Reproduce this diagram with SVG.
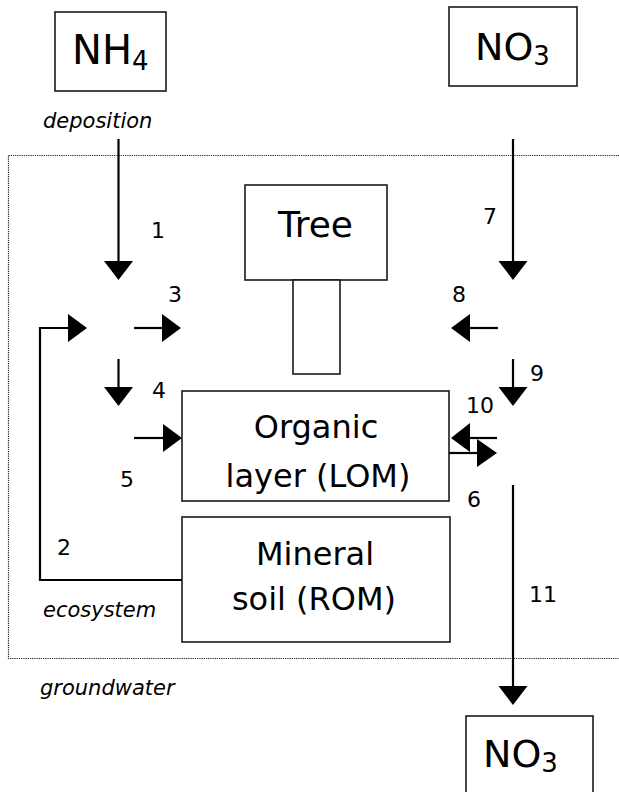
<svg xmlns="http://www.w3.org/2000/svg" width="619" height="792" viewBox="0 0 619 792">
<style>
.box{fill:#fff;stroke:#1a1a1a;stroke-width:1.6}
.ln{fill:none;stroke:#000;stroke-width:2.2}
.head{fill:#000}
.big{font-family:"DejaVu Sans","Liberation Sans",sans-serif;fill:#000}
.lbl{font-family:"DejaVu Sans","Liberation Sans",sans-serif;font-size:22px;fill:#000}
.it{font-family:"DejaVu Sans","Liberation Sans",sans-serif;font-style:italic;font-size:21px;fill:#000}
.dot{fill:none;stroke:#222;stroke-width:1.2;stroke-dasharray:1.2 1}
</style>
<rect class="dot" x="8.5" y="155.5" width="620" height="503"/>
<text class="it" x="43" y="128">deposition</text>
<text class="it" x="43" y="617">ecosystem</text>
<text class="it" x="40" y="695">groundwater</text>
<g id="nh4">
<rect class="box" x="55" y="12" width="111" height="79"/>
<text class="big" x="72" y="64" font-size="40">NH<tspan font-size="26" dy="6">4</tspan></text>
</g>
<g id="no3-top">
<rect class="box" x="449" y="7" width="128" height="79"/>
<text class="big" x="475" y="60" font-size="38">NO<tspan font-size="26" dy="5">3</tspan></text>
</g>
<g id="tree">
<rect class="box" x="245" y="185" width="142" height="95"/>
<rect class="box" x="293" y="280" width="47" height="94"/>
<text class="big" x="315.5" y="237" font-size="36" text-anchor="middle">Tree</text>
</g>
<g id="organic">
<rect class="box" x="182" y="391" width="267" height="110"/>
<text class="big" x="316" y="438" font-size="32" text-anchor="middle">Organic</text>
<text class="big" x="318" y="487" font-size="32" text-anchor="middle">layer (LOM)</text>
</g>
<g id="mineral">
<rect class="box" x="182" y="517" width="268" height="125"/>
<text class="big" x="315" y="565" font-size="32" text-anchor="middle">Mineral</text>
<text class="big" x="314" y="610" font-size="32" text-anchor="middle">soil (ROM)</text>
</g>
<g id="no3-bottom">
<rect class="box" x="466" y="716" width="127" height="80"/>
<text class="big" x="483" y="767" font-size="38">NO<tspan font-size="26" dy="5">3</tspan></text>
</g>
<g id="connectors">
<line class="ln" x1="118.5" y1="139" x2="118.5" y2="262"/>
<polygon class="head" points="104,261 133,261 118.5,280"/>
<line class="ln" x1="513" y1="139" x2="513" y2="262"/>
<polygon class="head" points="498.5,261 527.5,261 513,280"/>
<line class="ln" x1="134" y1="328" x2="163" y2="328"/>
<polygon class="head" points="162,314 162,342 181,328"/>
<polyline class="ln" points="182,580 40,580 40,328 69,328"/>
<polygon class="head" points="68,314 68,342 87,328"/>
<line class="ln" x1="118.5" y1="359" x2="118.5" y2="388"/>
<polygon class="head" points="104,387 133,387 118.5,406"/>
<line class="ln" x1="134" y1="438" x2="163" y2="438"/>
<polygon class="head" points="163,424 163,452 182,438"/>
<line class="ln" x1="498" y1="328" x2="469" y2="328"/>
<polygon class="head" points="470,314 470,342 451,328"/>
<line class="ln" x1="513" y1="359" x2="513" y2="388"/>
<polygon class="head" points="498.5,387 527.5,387 513,406"/>
<line class="ln" x1="497" y1="438" x2="469" y2="438"/>
<polygon class="head" points="470,423 470,452 451,438"/>
<line class="ln" x1="449" y1="453" x2="478" y2="453"/>
<polygon class="head" points="477,439 477,467 497,453"/>
<line class="ln" x1="513" y1="485" x2="513" y2="687"/>
<polygon class="head" points="498.5,686 527.5,686 513,705"/>
</g>
<g id="labels">
<text class="lbl" x="151" y="238">1</text>
<text class="lbl" x="57" y="555">2</text>
<text class="lbl" x="168" y="302">3</text>
<text class="lbl" x="152" y="398">4</text>
<text class="lbl" x="120" y="487">5</text>
<text class="lbl" x="467" y="507">6</text>
<text class="lbl" x="483" y="224">7</text>
<text class="lbl" x="452" y="302">8</text>
<text class="lbl" x="530" y="381">9</text>
<text class="lbl" x="466" y="413">10</text>
<text class="lbl" x="529" y="602">11</text>
</g>
</svg>
